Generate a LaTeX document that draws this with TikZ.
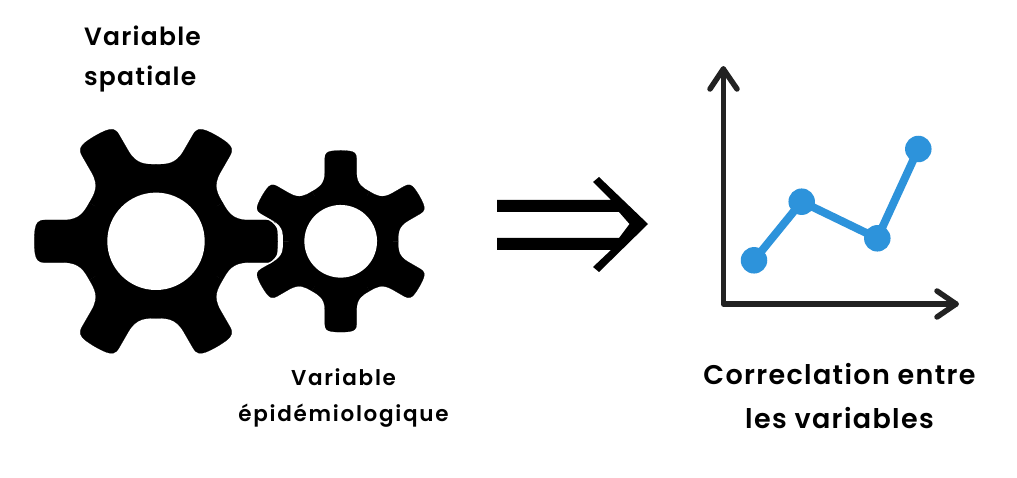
\documentclass[tikz,border=0pt]{standalone}
\usepackage{fontspec}
\setmainfont{Poppins}[BoldFont={Poppins SemiBold}]
\definecolor{axisgray}{HTML}{222222}
\definecolor{lineblue}{HTML}{2D93DB}
\newcommand{\cogwheel}[4]{% x, y, scale, rotation
  \begin{scope}[shift={(#1,#2)},rotate=#4,scale=#3]
    \fill[black] (0,0) circle (70);
    \foreach \a in {0,60,...,300}{
      \fill[rotate=\a,draw=black,line width=.2pt]
        (0,0) -- (66.7,-38.5)
        .. controls (71.7,-29.8) and (76,-21.3) .. (92,-21.3)
        -- (111,-21.3)
        .. controls (118,-21.3) and (120,-18) .. (121,-12)
        .. controls (122,-5) and (122,5) .. (121,12)
        .. controls (120,18) and (118,21.3) .. (111,21.3)
        -- (92,21.3)
        .. controls (76,21.3) and (71.7,29.8) .. (66.7,38.5) -- cycle;
    }
    \fill[white] (0,0) circle (48.7);
  \end{scope}
}
\begin{document}
\begin{tikzpicture}[x=1pt,y=-1pt,
  lab/.style={inner sep=0pt,text=black},
  axisline/.style={draw=axisgray,line width=5.5pt,line cap=round,line join=round},
  dotmark/.style={circle,fill=lineblue,minimum size=26.5pt,inner sep=0pt}]
\useasboundingbox (0,0) rectangle (1017,478);
\fill[white] (0,0) rectangle (1017,478);
\cogwheel{156}{241.3}{1}{0}
\cogwheel{340.7}{241.3}{0.746}{30}
\draw[white,line width=1.2pt] (266,218.5) .. controls (276,221) and (281,232) .. (281,241.5) .. controls (281,251) and (276,262) .. (266,264.5);
\fill[black] (497,200) -- (611,200) -- (593,182) -- (599,177) -- (648,224) -- (599,272) -- (593,267) -- (611,250) -- (497,250) -- (497,238) -- (619,238) -- (629.5,224) -- (619,212) -- (497,212) -- cycle;
\coordinate (top) at (723.3,69);
\coordinate (origin) at (723.3,304);
\coordinate (right) at (956,304);
\draw[axisline] (top) -- (origin) -- (right);
\draw[axisline] (710,89) -- (top) -- (737,89);
\draw[axisline] (937,291) -- (right) -- (937,317);
\node[dotmark] (p1) at (754,260.3) {};
\node[dotmark] (p2) at (801.7,201.7) {};
\node[dotmark] (p3) at (877.3,238.3) {};
\node[dotmark] (p4) at (918.3,149) {};
\draw[lineblue,line width=8pt] (p1.center) -- (p2.center) -- (p3.center) -- (p4.center);
\node[lab,align=left,font=\bfseries\fontsize{25pt}{40pt}\selectfont\addfontfeature{LetterSpace=5}] (t1) at (142.5,59) {Variable\\spatiale};
\node[lab,align=center,font=\bfseries\fontsize{21.5pt}{36pt}\selectfont\addfontfeature{LetterSpace=8}] (t2) at (343.5,398) {Variable\\épidémiologique};
\node[lab,align=center,font=\bfseries\fontsize{27pt}{44pt}\selectfont\addfontfeature{LetterSpace=5}] (t3) at (839.5,396) {Correclation entre\\les variables};
\end{tikzpicture}
\end{document}
